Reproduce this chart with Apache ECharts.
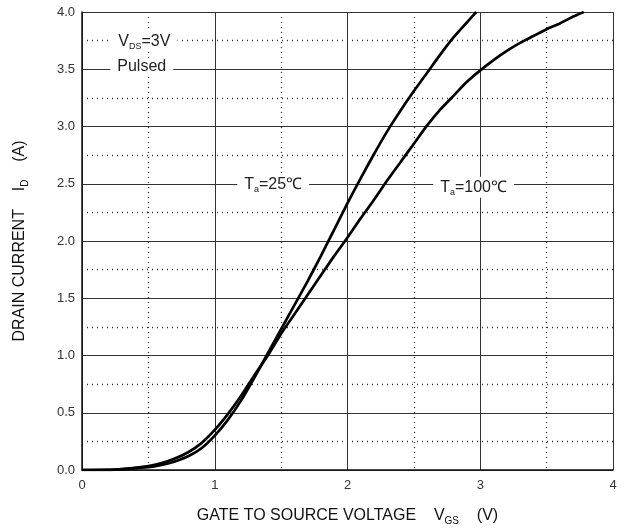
<!DOCTYPE html>
<html>
<head>
<meta charset="utf-8">
<script src="https://cdn.jsdelivr.net/npm/echarts@6/dist/echarts.min.js"></script>
<style>
  html, body { margin: 0; padding: 0; background: #fff; }
  #chart { width: 624px; height: 531px; }
</style>
</head>
<body>
<div id="chart"></div>
<script>
  // transfer characteristics
  var vgs25 = [0, 0.25, 0.5, 0.6, 0.7, 0.8, 0.9, 1.0, 1.1, 1.2, 1.3, 1.4, 1.5, 1.6, 1.7, 1.8, 1.9, 2.0, 2.1, 2.2, 2.3, 2.4, 2.5, 2.6, 2.7, 2.8, 2.9, 2.97];
  var id25  = [0, 0.003, 0.025, 0.045, 0.075, 0.12, 0.19, 0.30, 0.44, 0.61, 0.81, 1.02, 1.23, 1.44, 1.65, 1.87, 2.10, 2.33, 2.55, 2.76, 2.96, 3.14, 3.31, 3.47, 3.63, 3.78, 3.91, 4.0];
  var vgs100 = [0, 0.25, 0.5, 0.6, 0.7, 0.8, 0.9, 1.0, 1.1, 1.2, 1.3, 1.4, 1.5, 1.6, 1.7, 1.8, 1.9, 2.0, 2.1, 2.2, 2.3, 2.4, 2.5, 2.6, 2.7, 2.8, 2.9, 3.0, 3.1, 3.2, 3.3, 3.4, 3.5, 3.6, 3.7, 3.78];
  var id100  = [0, 0.004, 0.035, 0.06, 0.10, 0.155, 0.235, 0.35, 0.49, 0.65, 0.83, 1.0, 1.19, 1.36, 1.53, 1.70, 1.87, 2.03, 2.20, 2.36, 2.53, 2.69, 2.85, 3.01, 3.15, 3.27, 3.39, 3.49, 3.58, 3.66, 3.73, 3.79, 3.85, 3.90, 3.96, 4.0];
  var xTicks = [0, 1, 2, 3, 4];
  var yTicks = ['0.0', '0.5', '1.0', '1.5', '2.0', '2.5', '3.0', '3.5', '4.0'];

  function pairs(xs, ys) {
    var out = [];
    for (var i = 0; i < xs.length; i++) out.push([xs[i], ys[i]]);
    return out;
  }

  var FONT = 'Liberation Sans, Arial, sans-serif';
  var txt = { fontFamily: FONT, fontSize: 16, color: '#222' };
  var sub = { fontFamily: FONT, fontSize: 9, color: '#222', padding: [10, 0, 0, 0] };

  // text boxes on the grid, white background hides the grid line behind them
  function note(x, y, rich) {
    return {
      coord: [x, y],
      symbol: 'circle',
      symbolSize: 0,
      itemStyle: { color: 'rgba(0,0,0,0)' },
      label: {
        show: true,
        position: 'inside',
        formatter: rich,
        backgroundColor: '#fff',
        padding: [1, 7, 1, 7],
        rich: { t: txt, s: sub }
      }
    };
  }

  var chart = echarts.init(document.getElementById('chart'));
  var option = {
    animation: false,
    backgroundColor: '#fff',
    grid: { left: 82, right: 11, top: 12, bottom: 56 },
    xAxis: {
      type: 'value',
      min: 0, max: 4, interval: 1,
      axisLine: { show: true, lineStyle: { color: '#111', width: 1.5 } },
      axisTick: { show: false },
      axisLabel: {
        fontFamily: FONT, fontSize: 13, color: '#333', margin: 9,
        formatter: function (v) { return xTicks.indexOf(v) >= 0 ? String(v) : ''; }
      },
      splitLine: { show: true, lineStyle: { color: '#333', width: 1 } },
      minorTick: { show: false, splitNumber: 2 },
      minorSplitLine: { show: true, lineStyle: { color: '#333', type: [1, 4], width: 1.3 } },
      name: '{t|GATE TO SOURCE VOLTAGE    V}{s|GS}{t|    (V)}',
      nameLocation: 'middle',
      nameGap: 36,
      nameTextStyle: { rich: { t: { fontFamily: FONT, fontSize: 16, color: '#111' }, s: { fontFamily: FONT, fontSize: 10, color: '#111', padding: [10, 0, 0, 0] } } }
    },
    yAxis: {
      type: 'value',
      min: 0, max: 4, interval: 0.5,
      axisLine: { show: true, lineStyle: { color: '#111', width: 1.5 } },
      axisTick: { show: false },
      axisLabel: {
        fontFamily: FONT, fontSize: 13, color: '#333', margin: 7,
        formatter: function (v) { return yTicks[Math.round(v / 0.5)]; }
      },
      splitLine: { show: true, lineStyle: { color: '#333', width: 1 } },
      minorTick: { show: false, splitNumber: 2 },
      minorSplitLine: { show: true, lineStyle: { color: '#333', type: [1, 4], width: 1.3 } },
      name: '{t|DRAIN CURRENT    I}{s|D}{t|    (A)}',
      nameLocation: 'middle',
      nameGap: 52,
      nameTextStyle: { rich: { t: { fontFamily: FONT, fontSize: 16, color: '#111' }, s: { fontFamily: FONT, fontSize: 10, color: '#111', padding: [10, 0, 0, 0] } } }
    },
    series: [{
      name: 'Ta=25',
      type: 'line',
      smooth: 0.2,
      showSymbol: false,
      lineStyle: { color: '#000', width: 2.7 },
      data: pairs(vgs25, id25),
      markPoint: {
        silent: true,
        data: [
          note(0.47, 3.74, '{t|V}{s|DS}{t|=3V}'),
          note(0.45, 3.52, '{t|Pulsed}'),
          note(1.44, 2.49, '{t|T}{s|a}{t|=25℃}')
        ]
      }
    }, {
      name: 'Ta=100',
      type: 'line',
      smooth: 0.2,
      showSymbol: false,
      lineStyle: { color: '#000', width: 2.7 },
      data: pairs(vgs100, id100),
      markPoint: {
        silent: true,
        data: [
          note(2.95, 2.47, '{t|T}{s|a}{t|=100℃}')
        ]
      }
    }]
  };
  chart.setOption(option);
</script>
</body>
</html>
